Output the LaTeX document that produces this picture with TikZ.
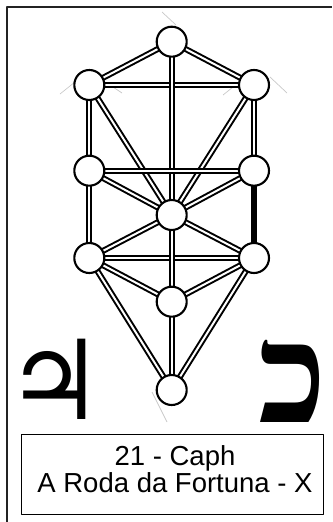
\documentclass[tikz,border=0pt]{standalone}
\usepackage{fontspec}
\TeXXeTstate=1
\newfontfamily\capfont{Liberation Sans}
\newfontfamily\hebfont[Script=Hebrew]{Liberation Serif}
\newfontfamily\planetfont{DejaVu Serif}
\definecolor{framegray}{RGB}{35,35,35}
\definecolor{guidegray}{RGB}{200,200,200}
\pgfdeclarelayer{background}
\pgfsetlayers{background,main}

\begin{document}
\begin{tikzpicture}[x=1pt,y=-1pt,line join=round]
\tikzset{sephira/.style={circle,draw=black,fill=white,line width=2.1pt,minimum size=30pt,inner sep=0pt},
  channel/.style={draw=black,line width=2pt,double=white,double distance=2pt},
  kaphpath/.style={draw=black,line width=6pt},
  guide/.style={guidegray,line width=0.7pt},
  capbox/.style={draw=black,line width=1pt,minimum width=301.6pt,minimum height=79.7pt,inner sep=0pt},
  captext/.style={font=\capfont\fontsize{27.5}{27}\selectfont,inner sep=0pt}}
\useasboundingbox (0,0) rectangle (332,522);

% frame
\draw[framegray,line width=1.2pt] (7,522)--(7,7)--(332,7);

% the ten sephiroth
\node[sephira] (kether) at (171.7,41.7) {};
\node[sephira] (binah) at (89.3,85) {};
\node[sephira] (chokmah) at (254,85) {};
\node[sephira] (geburah) at (89.3,170.7) {};
\node[sephira] (chesed) at (254,170.7) {};
\node[sephira] (tiphareth) at (171.7,215) {};
\node[sephira] (hod) at (89.3,258) {};
\node[sephira] (netzach) at (254,258) {};
\node[sephira] (yesod) at (171.7,301.7) {};
\node[sephira] (malkuth) at (171.7,390) {};

% the paths
\begin{pgfonlayer}{background}
\draw[guide] (162,12)--(176,25);
\draw[guide] (60,94)--(75,82);
\draw[guide] (110,85)--(122,93);
\draw[guide] (270,77)--(287,93);
\draw[guide] (223,95)--(233,87);
\draw[guide] (152,392)--(167,422);
\foreach \a/\b in {kether/binah,kether/chokmah,binah/chokmah,kether/tiphareth,
  binah/geburah,chokmah/chesed,binah/tiphareth,chokmah/tiphareth,
  geburah/chesed,geburah/tiphareth,chesed/tiphareth,geburah/hod,
  tiphareth/hod,tiphareth/netzach,hod/netzach,hod/yesod,netzach/yesod,
  hod/malkuth,netzach/malkuth,tiphareth/yesod,yesod/malkuth} {
  \draw[channel] (\a.center)--(\b.center);
}
\draw[kaphpath] (chesed.center)--(netzach.center);
\end{pgfonlayer}

% planet and letter
\node[font=\planetfont\fontsize{110}{110}\selectfont,inner sep=0pt] (jupiter) at (55,379) {♃};
\node[font=\hebfont\bfseries\fontsize{140}{140}\selectfont,inner sep=0pt] (letter) at (292.5,381) {\beginR כ\endR};

% caption
\node[capbox] (caption) at (172.5,474.2) {};
\node[captext,anchor=base] (number) at (175,465) {21 - Caph};
\node[captext,anchor=base] (title) at (175,492) {A Roda da Fortuna - X};
\end{tikzpicture}
\end{document}
